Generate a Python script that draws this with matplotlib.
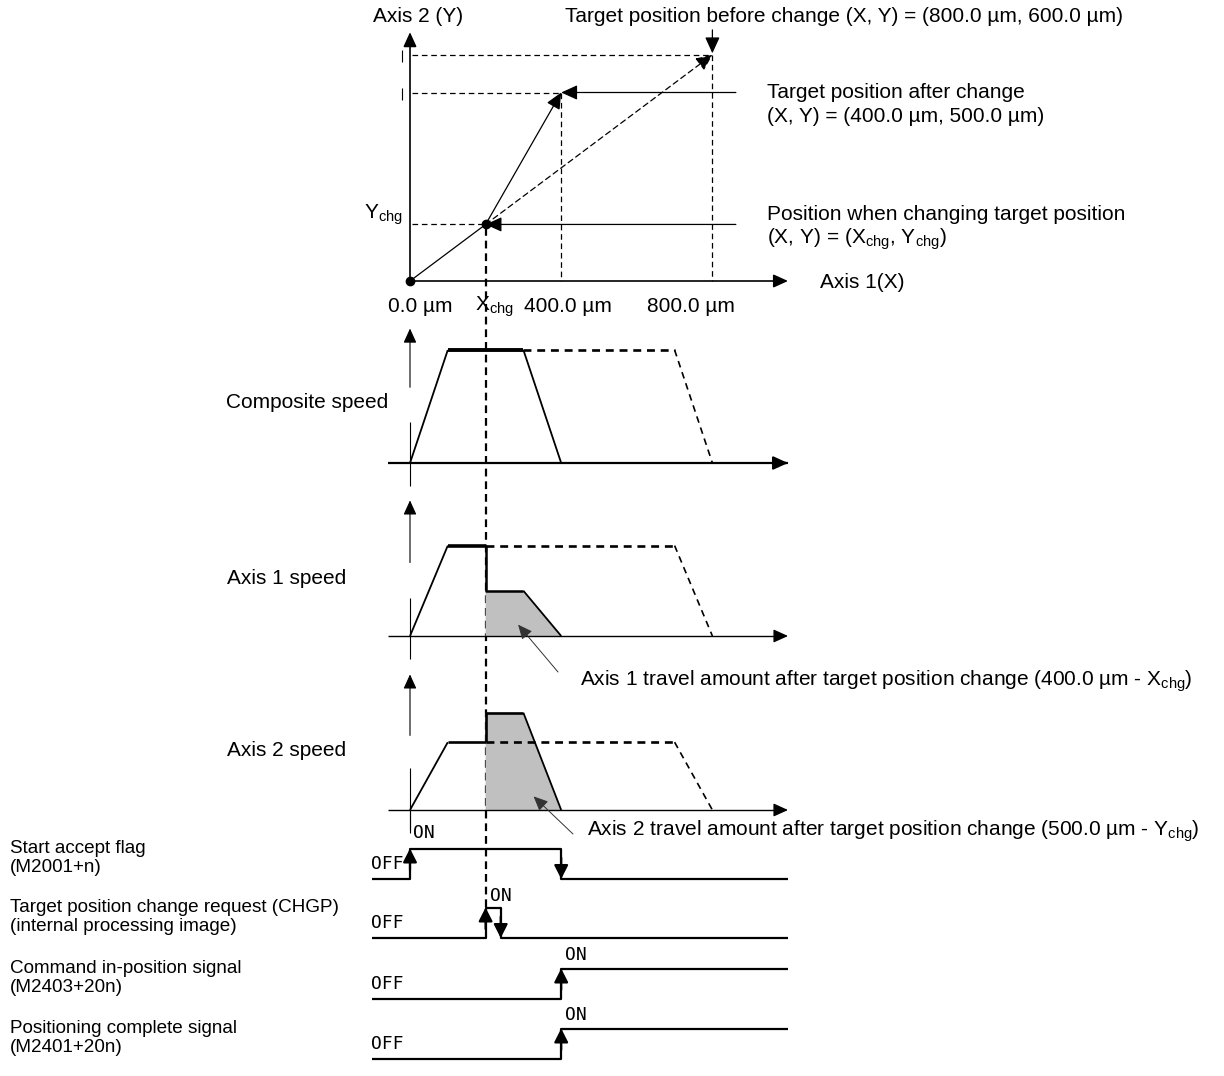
import matplotlib
matplotlib.use('Agg')
import matplotlib.pyplot as plt
from matplotlib.patches import Polygon
from matplotlib.transforms import blended_transform_factory

plt.rcParams['font.family'] = ['Liberation Sans', 'DejaVu Sans']
plt.rcParams['mathtext.fontset'] = 'custom'
plt.rcParams['mathtext.rm'] = 'Liberation Sans'
plt.rcParams['mathtext.it'] = 'Liberation Sans:italic'

# posicoes no plano XY (um)
start_pos = (0, 0)
chg_pos = (200, 150)        # X_chg, Y_chg
new_target = (400, 500)
old_target = (800, 600)

# tempos (mesma escala horizontal do eixo X)
t_acc, t_chg, t_dec, t_end = 100, 200, 300, 400
t_dec_old, t_end_old = 700, 800
t_chgp_off = 240

# velocidades
comp_speed = 100
ax1_speed_old, ax1_speed_new = 80, 40
ax2_speed_old, ax2_speed_new = 60, 86

signal_names = ['Start accept flag\n(M2001+n)',
                'Target position change request (CHGP)\n(internal processing image)',
                'Command in-position signal\n(M2403+20n)',
                'Positioning complete signal\n(M2401+20n)']
signal_on = [0, t_chg, t_end, t_end]
signal_off = [t_end, t_chgp_off, None, None]

W, H = 1224, 1076
X0, PXU = 410, 0.378
XLIM = (-X0 / PXU, (W - X0) / PXU)
T_MIN, T_MAX = -100, 1000

fig = plt.figure(figsize=(W / 100, H / 100), dpi=100)

ov = fig.add_axes([0, 0, 1, 1])
ov.set_xlim(0, W)
ov.set_ylim(H, 0)
ov.axis('off')


def panel(base, top, lo, hi):
    a = fig.add_axes([0, (H - base) / H, 1, (base - top) / H])
    a.set_xlim(*XLIM)
    a.set_ylim(lo, hi)
    a.axis('off')
    return a


def arrow(a, p0, p1, lw=1.0, color='black', hl=0.55, hw=0.25, ms=16):
    a.annotate('', xy=p1, xytext=p0,
               arrowprops=dict(arrowstyle='-|>,head_length=%s,head_width=%s' % (hl, hw),
                               lw=lw, color=color, shrinkA=0, shrinkB=0,
                               mutation_scale=ms), annotation_clip=False)


def line(a, xs, ys, **kw):
    kw.setdefault('color', 'black')
    a.plot(xs, ys, clip_on=False, solid_capstyle='butt', **kw)


# ---------------- plano XY ----------------
s = 0.377
top = panel(281, 281 - 600 * s, 0, 600)
arrow(top, (0, 0), (0, 660), lw=1.2)
arrow(top, (0, 0), (1000, 0), lw=1.2)
for yy in [(613, 581), (512, 480)]:
    line(top, [-21, -21], yy, lw=0.8)

for p in [new_target, old_target]:
    line(top, [5, p[0]], [p[1], p[1]], lw=0.9, ls=(0, (4.5, 3)))
    line(top, [p[0], p[0]], [p[1], 0], lw=0.9, ls=(0, (4.5, 3)))
line(top, [5, chg_pos[0]], [chg_pos[1], chg_pos[1]], lw=0.9, ls=(0, (4.5, 3)))

line(top, [start_pos[0], chg_pos[0]], [start_pos[1], chg_pos[1]], lw=0.9)
arrow(top, chg_pos, new_target, lw=0.9, ms=18)
top.annotate('', xy=old_target, xytext=chg_pos,
             arrowprops=dict(arrowstyle='-|>,head_length=0.55,head_width=0.25', lw=0.9,
                             ls=(0, (4.5, 3)), shrinkA=0, shrinkB=0, mutation_scale=18,
                             color='black'))
arrow(top, (862, new_target[1]), new_target, lw=0.9, ms=18)
arrow(top, (862, chg_pos[1]), chg_pos, lw=0.9, ms=18)
arrow(top, (old_target[0], 666), (old_target[0], 604), lw=0.9, ms=18)
top.plot([start_pos[0], chg_pos[0]], [start_pos[1], chg_pos[1]], 'o', ms=6,
         color='black', clip_on=False)

# linha tracejada de X_chg atravessando todos os graficos
bl = blended_transform_factory(top.transData, ov.transData)
ov.plot([chg_pos[0], chg_pos[0]], [228, 908], color='black', lw=1.6,
        ls=(0, (3.5, 2.2)), transform=bl, clip_on=False)

# ---------------- velocidades ----------------
v = 1.13


def speed_axis(a, gap, tip):
    arrow(a, (0, gap[0]), (0, tip), lw=0.8)
    line(a, [0, 0], [gap[1], -20], lw=0.8)


comp = panel(463, 463 - 100 * v, 0, 100)
speed_axis(comp, (67, 36), 119)
line(comp, [-58, 1000], [0, 0], lw=1.6)
arrow(comp, (990, 0), (1000, 0), lw=1.6)
line(comp, [0, t_acc], [0, comp_speed], lw=1.3)
line(comp, [t_acc, t_dec], [comp_speed, comp_speed], lw=2.8)
line(comp, [t_dec, t_end], [comp_speed, 0], lw=1.3)
line(comp, [t_dec, t_dec_old], [comp_speed, comp_speed], lw=1.9, ls=(0, (3, 2.2)))
line(comp, [t_dec_old, t_end_old], [comp_speed, 0], lw=1.2, ls=(0, (4, 3)))

a1 = panel(636, 636 - 100 * v, 0, 100)
speed_axis(a1, (65, 34), 120)
line(a1, [-58, 990], [0, 0], lw=1.0)
arrow(a1, (990, 0), (1000, 0), lw=1.0)
a1.add_patch(Polygon([(t_chg, 0), (t_chg, ax1_speed_new), (t_dec, ax1_speed_new), (t_end, 0)],
                     closed=True, facecolor='#c0c0c0', edgecolor='none'))
line(a1, [0, t_acc], [0, ax1_speed_old], lw=1.3)
line(a1, [t_acc, t_chg], [ax1_speed_old, ax1_speed_old], lw=2.6)
line(a1, [t_chg, t_chg, t_dec], [ax1_speed_old, ax1_speed_new, ax1_speed_new], lw=1.8)
line(a1, [t_dec, t_end], [ax1_speed_new, 0], lw=1.3)
line(a1, [t_chg, t_dec_old], [ax1_speed_old, ax1_speed_old], lw=1.9, ls=(0, (3, 2.2)))
line(a1, [t_dec_old, t_end_old], [ax1_speed_old, 0], lw=1.2, ls=(0, (4, 3)))

a2 = panel(810, 810 - 100 * v, 0, 100)
speed_axis(a2, (66, 37), 120)
line(a2, [-58, 990], [0, 0], lw=1.0)
arrow(a2, (990, 0), (1000, 0), lw=1.0)
a2.add_patch(Polygon([(t_chg, 0), (t_chg, ax2_speed_new), (t_dec, ax2_speed_new), (t_end, 0)],
                     closed=True, facecolor='#c0c0c0', edgecolor='none'))
line(a2, [0, t_acc], [0, ax2_speed_old], lw=1.3)
line(a2, [t_acc, t_chg], [ax2_speed_old, ax2_speed_old], lw=1.9)
line(a2, [t_chg, t_chg, t_dec], [ax2_speed_old, ax2_speed_new, ax2_speed_new], lw=1.9)
line(a2, [t_dec, t_end], [ax2_speed_new, 0], lw=1.3)
line(a2, [t_chg, t_dec_old], [ax2_speed_old, ax2_speed_old], lw=1.9, ls=(0, (3, 2.2)))
line(a2, [t_dec_old, t_end_old], [ax2_speed_old, 0], lw=1.2, ls=(0, (4, 3)))

# setas das areas de deslocamento
for a, tip, tail in [(a1, (286, 10), (558, 672)), (a2, (327, 12), (573, 834))]:
    a.annotate('', xy=tip, xycoords=a.transData, xytext=tail, textcoords=ov.transData,
               arrowprops=dict(arrowstyle='-|>,head_length=0.55,head_width=0.25', lw=0.7,
                               color='#333333', shrinkA=0, shrinkB=0, mutation_scale=16))
line(ov, [410, 410], [812, 830], lw=0.8)

# ---------------- sinais ----------------
bases = [879, 938, 999, 1059]
mono = 'DejaVu Sans Mono'
for i, base in enumerate(bases):
    sa = panel(base, base - 30.5, 0, 1)
    on, off = signal_on[i], signal_off[i]
    xs = [T_MIN, on, on]
    ys = [0, 0, 1]
    if off is None:
        xs += [T_MAX]
        ys += [1]
    else:
        xs += [off, off, T_MAX]
        ys += [1, 0, 0]
    line(sa, xs, ys, lw=1.6)
    arrow(sa, (on, 0.3), (on, 1.0), lw=1.6, hl=0.55, hw=0.28, ms=15)
    if off is not None:
        arrow(sa, (off, 0.7), (off, 0.0), lw=1.6, hl=0.55, hw=0.28, ms=15)
    ov.text(371, base - 15, 'OFF', family=mono, fontsize=13, va='center', ha='left')
    ov.text(10, base - 21, signal_names[i], fontsize=13.6, va='center', ha='left',
            linespacing=1.2)

ov.text(413, 833, 'ON', family=mono, fontsize=13, va='center')
ov.text(490, 896, 'ON', family=mono, fontsize=13, va='center')
ov.text(565, 955, 'ON', family=mono, fontsize=13, va='center')
ov.text(565, 1015, 'ON', family=mono, fontsize=13, va='center')

# ---------------- textos ----------------
fs = 15
ov.text(373, 17, 'Axis 2 (Y)', fontsize=fs, va='center')
ov.text(565, 17, 'Target position before change (X, Y) = (800.0 µm, 600.0 µm)', fontsize=fs, va='center')
ov.text(767, 92, 'Target position after change', fontsize=fs, va='center')
ov.text(767, 116, '(X, Y) = (400.0 µm, 500.0 µm)', fontsize=fs, va='center')
ov.text(767, 215, 'Position when changing target position', fontsize=fs, va='center')
ov.text(767, 239, r'(X, Y) = ($\mathregular{X_{chg}}$, $\mathregular{Y_{chg}}$)', fontsize=fs, va='center')
ov.text(364, 215, r'$\mathregular{Y_{chg}}$', fontsize=fs, va='center')
ov.text(820, 282, 'Axis 1(X)', fontsize=fs, va='center')
ov.text(388, 307, '0.0 µm', fontsize=fs, va='center')
ov.text(475, 307, r'$\mathregular{X_{chg}}$', fontsize=fs, va='center')
ov.text(524, 307, '400.0 µm', fontsize=fs, va='center')
ov.text(647, 307, '800.0 µm', fontsize=fs, va='center')
ov.text(226, 403, 'Composite speed', fontsize=fs, va='center')
ov.text(227, 578, 'Axis 1 speed', fontsize=fs, va='center')
ov.text(227, 751, 'Axis 2 speed', fontsize=fs, va='center')
ov.text(580, 681, r'Axis 1 travel amount after target position change (400.0 µm - $\mathregular{X_{chg}}$)',
        fontsize=fs, va='center')
ov.text(587, 831, r'Axis 2 travel amount after target position change (500.0 µm - $\mathregular{Y_{chg}}$)',
        fontsize=fs, va='center')

fig.savefig('out.png', dpi=100)
